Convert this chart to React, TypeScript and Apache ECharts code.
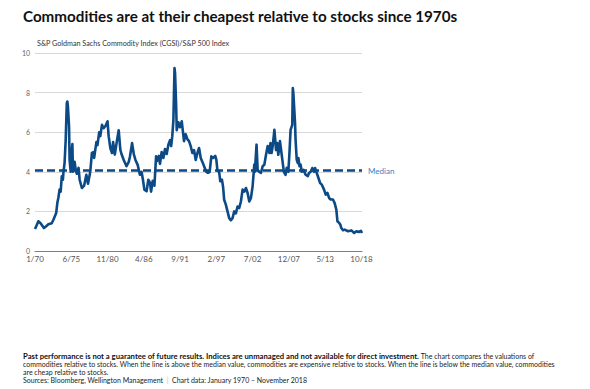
import React, { useEffect, useRef } from "react";
import * as echarts from "echarts";

const months: number[] = [
  0, 3, 6, 10, 16, 20, 24, 30, 33, 38, 40, 42, 44, 46, 48, 50, 51, 53, 55, 57, 58, 59, 61, 62, 64, 66, 67, 68, 71, 73, 75, 78, 80, 84, 88, 92, 95, 99,
  102, 105, 106, 110, 112, 115, 117, 120, 123, 126, 130, 132, 135, 138, 140, 143, 147, 150, 153, 155, 159, 164, 168, 170, 174, 177, 180, 184, 188, 191, 194, 196,
  200, 203, 206, 208, 211, 214, 217, 219, 222, 224, 227, 230, 233, 236, 239, 242, 244, 246, 248, 250, 251, 253, 254, 257, 260, 263, 267, 270, 273, 276, 279, 282,
  285, 288, 291, 294, 297, 300, 303, 307, 310, 313, 316, 319, 323, 325, 327, 330, 332, 335, 337, 339, 342, 345, 348, 351, 354, 357, 360, 363, 366, 369, 372, 375,
  378, 381, 384, 387, 390, 393, 394, 397, 399, 402, 405, 408, 411, 414, 417, 420, 422, 424, 426, 429, 432, 434, 436, 439, 441, 444, 446, 449, 451, 454, 456, 458,
  461, 462, 463, 466, 467, 469, 471, 472, 474, 476, 478, 481, 485, 489, 491, 494, 497, 500, 502, 506, 509, 511, 514, 518, 521, 524, 527, 530, 534, 537, 540, 542,
  545, 547, 549, 552, 555, 561, 567, 572, 576, 580, 584, 586,
];

const ratio: number[] = [
  1.11, 1.3, 1.5, 1.4, 1.16, 1.25, 1.35, 1.4, 1.58, 1.92, 2.42, 2.7, 3.1, 3.0, 3.77, 3.6, 4.0, 4.44, 5.6, 7.47, 7.55, 7.3, 6.3, 4.6, 4.0, 5.1, 5.4, 4.0, 4.5, 4.1, 3.9, 4.2, 3.6, 3.18, 3.3, 3.85, 3.4, 4.0,
  4.95, 5.0, 4.7, 5.5, 5.35, 6.0, 5.8, 6.37, 6.2, 6.3, 6.55, 5.8, 5.2, 4.95, 5.5, 4.87, 5.6, 6.1, 5.1, 4.9, 4.6, 4.28, 4.5, 4.75, 5.45, 4.9, 4.6, 4.35, 3.85, 4.0, 3.5, 3.1,
  3.02, 3.6, 3.45, 3.0, 3.55, 3.3, 4.78, 4.55, 4.8, 4.4, 5.0, 4.7, 5.15, 4.9, 5.37, 5.6, 5.3, 5.8, 6.6, 9.24, 9.0, 7.3, 6.1, 6.5, 6.25, 6.55, 5.55, 5.9, 5.65, 5.55, 5.3, 4.95,
  5.1, 4.6, 4.95, 5.2, 4.7, 4.5, 4.28, 4.0, 3.95, 4.0, 4.78, 4.7, 4.8, 4.6, 4.05, 4.0, 3.52, 3.6, 3.25, 2.59, 2.34, 2.0, 1.66, 1.55, 1.66, 2.0, 1.9, 2.25, 2.17, 2.5, 3.1, 3.0,
  3.18, 2.93, 2.5, 2.68, 3.27, 4.36, 4.0, 5.37, 4.1, 4.0, 3.95, 4.28, 4.36, 4.86, 5.3, 4.95, 5.45, 4.95, 5.3, 6.12, 5.1, 5.45, 4.86, 5.55, 5.1, 4.44, 4.0, 3.85, 4.2, 4.0, 4.95, 6.12,
  6.37, 8.23, 7.98, 6.46, 5.6, 4.61, 4.44, 4.7, 4.28, 4.36, 4.0, 4.1, 3.85, 3.78, 3.95, 4.0, 4.19, 4.0, 4.19, 3.85, 3.6, 3.43, 3.35, 3.1, 2.85, 2.93, 2.68, 2.6, 2.6, 2.42, 2.09, 1.5,
  1.42, 1.34, 1.16, 1.05, 1.08, 1.0, 1.04, 0.91, 1.0, 0.96, 1.02, 0.91,
];

const medianValue = 4.06;
const labelStepMonths = 65;
const startYear = 1970;
const lastMonth = 586;

const titleText = "Commodities are at their cheapest relative to stocks since 1970s";
const subtitleText = "S&P Goldman Sachs Commodity Index (CGSI)/S&P 500 Index";
const footBold = "Past performance is not a guarantee of future results. Indices are unmanaged and not available for direct investment.";
const footLine1 = " The chart compares the valuations of";
const footLine2 = "commodities relative to stocks. When the line is above the median value, commodities are expensive relative to stocks. When the line is below the median value, commodities";
const footLine3 = "are cheap relative to stocks.";
const footSources = "Sources: Bloomberg, Wellington Management";
const footData = "Chart data: January 1970 \u2013 November 2018";

const FONT = "Lato, 'Open Sans', sans-serif";

export default function App() {
  const ref = useRef<HTMLDivElement>(null);
  useEffect(() => {
    if (!ref.current) return;
    const chart = echarts.init(ref.current, undefined, { renderer: "svg" });
    const seriesData = months.map((m, i) => [m, ratio[i]]);
    chart.setOption({
      animation: false,
      backgroundColor: "#ffffff",
      textStyle: { fontFamily: FONT },
      grid: { left: 35, right: 228, top: 53, bottom: 138, containLabel: false },
      xAxis: {
        type: "value",
        min: 0,
        max: lastMonth,
        interval: labelStepMonths,
        axisLine: { show: true, lineStyle: { color: "#7f7f7f", width: 1.2 } },
        axisTick: { show: false },
        splitLine: { show: false },
        axisLabel: {
          color: "#555",
          fontSize: 8,
          margin: 4,
          fontFamily: FONT,
          showMaxLabel: false,
          formatter: (v: number) => {
            if (v % labelStepMonths !== 0) return "";
            const mo = (v % 12) + 1;
            const yr = (startYear + Math.floor(v / 12)) % 100;
            return mo + "/" + String(yr).padStart(2, "0");
          },
        },
      },
      yAxis: {
        type: "value",
        min: 0,
        max: 10,
        interval: 2,
        axisLine: { show: false },
        axisTick: { show: false },
        axisLabel: { color: "#666", fontSize: 7, margin: 5, fontFamily: FONT },
        splitLine: { show: true, lineStyle: { color: "#d9d9d9", width: 1 } },
      },
      series: [
        {
          type: "line",
          data: seriesData,
          showSymbol: false,
          symbol: "none",
          lineStyle: { color: "#0b4a86", width: 2.6, join: "round" },
          z: 3,
          markLine: {
            silent: true,
            symbol: ["none", "none"],
            data: [{ yAxis: medianValue }],
            lineStyle: { color: "#0b4a86", width: 2.6, type: [8, 4] },
            label: {
              show: true,
              position: "end",
              distance: 6,
              formatter: "Median",
              color: "#3a7fc1",
              fontSize: 8,
              fontFamily: FONT,
            },
            z: 2,
          },
        },
      ],
      graphic: [
        {
          type: "text",
          left: 23,
          top: 8,
          style: { text: titleText, fill: "#111", font: "bold 15.2px " + FONT },
        },
        {
          type: "text",
          left: 37,
          top: 40,
          style: { text: subtitleText, fill: "#333", font: "7.2px " + FONT },
        },
        {
          type: "text",
          left: 23,
          top: 352,
          style: {
            text: "{b|" + footBold + "}" + footLine1 + "\n" + footLine2 + "\n" + footLine3,
            fill: "#222",
            font: "7px " + FONT,
            lineHeight: 8,
            rich: { b: { fontWeight: "bold", fill: "#111", fontSize: 7.7, fontFamily: FONT, lineHeight: 8 } },
          },
        },
        {
          type: "text",
          left: 23,
          top: 376,
          style: {
            text: footSources + "  {s||}  " + footData,
            fill: "#222",
            font: "7px " + FONT,
            rich: { s: { fill: "#bbb", fontSize: 7, fontFamily: FONT } },
          },
        },
      ],
    });
    return () => chart.dispose();
  }, []);
  return (
    <div
      ref={ref}
      style={{ position: "fixed", left: 0, top: 0, width: 590, height: 389 }}
    />
  );
}
